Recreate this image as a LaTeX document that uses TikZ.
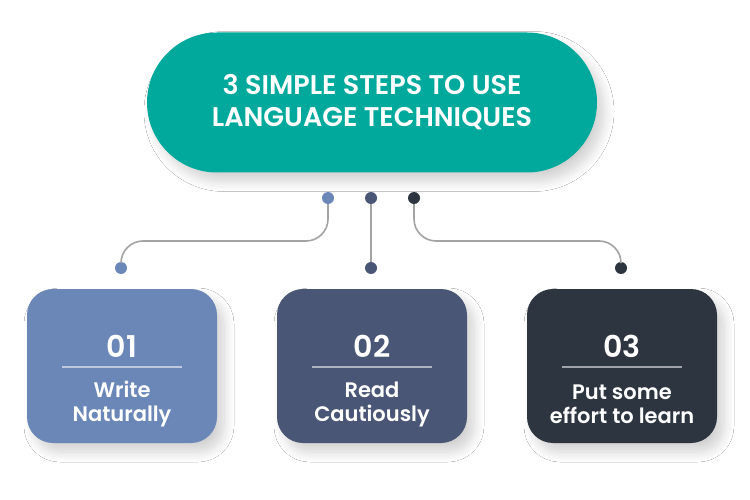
\documentclass[tikz,border=0pt]{standalone}
\usepackage{fontspec}
\setmainfont{Poppins}[BoldFont={Poppins SemiBold}]
\usetikzlibrary{shadows.blur}
\definecolor{teal1}{HTML}{00A99B}
\definecolor{c1}{HTML}{6A87B8}
\definecolor{c2}{HTML}{4A5675}
\definecolor{c3}{HTML}{2D3640}
\definecolor{conn}{HTML}{A3A3A3}
\tikzset{
  x=1pt, y=-1pt,
  shad/.style={blur shadow={shadow xshift=7pt, shadow yshift=-9pt, shadow blur steps=12, shadow blur radius=10pt, shadow opacity=18}},
  titlebox/.style={fill=teal1, draw=none, rounded corners=70pt, minimum width=450pt, minimum height=140pt, text=white, font=\bfseries\fontsize{27}{32}\selectfont, align=center, shad},
  stepbox/.style={fill=#1, draw=none, rounded corners=26pt, minimum width=190pt, minimum height=154pt, shad},
  dot/.style={circle, fill=#1, minimum size=12pt, inner sep=0pt},
  link/.style={draw=conn, line width=1.6pt, rounded corners=22pt},
  numtext/.style={text=white, font=\bfseries\fontsize{30}{34}\selectfont},
  labtext/.style={text=white, font=\bfseries\fontsize{21}{24}\selectfont, align=center},
  sep/.style={draw=white, draw opacity=0.55, line width=1.3pt}
}
\begin{document}
\begin{tikzpicture}
\useasboundingbox[fill=white] (0,0) rectangle (750,500);
\node[titlebox] (title) at (372,102.5) {3 SIMPLE STEPS TO USE\\LANGUAGE TECHNIQUES};
\node[stepbox=c1] (box1) at (122,366) {};
\node[stepbox=c2] (box2) at (372,366) {};
\node[stepbox=c3] (box3) at (622,366) {};
\node[dot=c1] (t1) at (328,198) {};
\node[dot=c2] (t2) at (371,198) {};
\node[dot=c3] (t3) at (414,198) {};
\node[dot=c1] (b1) at (121,268) {};
\node[dot=c2] (b2) at (371,268) {};
\node[dot=c3] (b3) at (621,268) {};
\coordinate (h1) at (121,241);
\coordinate (h3) at (621,241);
\draw[link] (t1) |- (h1) -- (b1);
\draw[link] (t2) -- (b2);
\draw[link] (t3) |- (h3) -- (b3);
\foreach \i/\n/\t in {1/01/{Write\\Naturally}, 2/02/{Read\\Cautiously}, 3/03/{Put some\\effort to learn}} {
  \node[numtext] (n\i) at ([yshift=20pt]box\i.center) {\n};
  \coordinate (la\i) at ([xshift=-60pt,yshift=-1pt]box\i.center);
  \coordinate (lb\i) at ([xshift=60pt,yshift=-1pt]box\i.center);
  \draw[sep] (la\i) -- (lb\i);
  \node[labtext] (l\i) at ([yshift=-38pt]box\i.center) {\t};
}
\end{tikzpicture}
\end{document}
